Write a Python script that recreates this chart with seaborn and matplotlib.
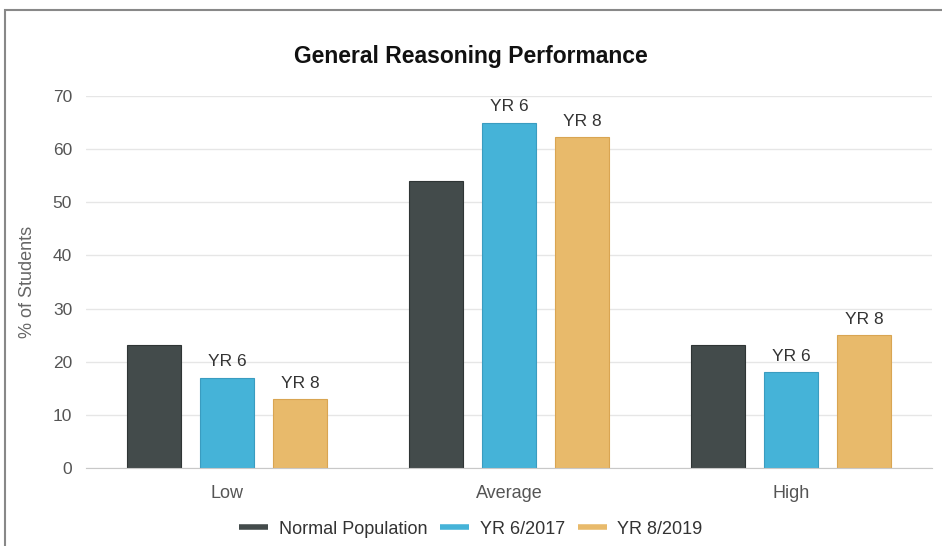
import matplotlib.pyplot as plt
import matplotlib.patches as patches
import matplotlib.ticker as ticker
import pandas as pd
import seaborn as sns

# values
categories = ['Low', 'Average', 'High']
series_names = ['Normal Population', 'YR 6/2017', 'YR 8/2019']
normal_pop = [23.2, 54, 23.2]
yr6_2017 = [17, 65, 18]
yr8_2019 = [13, 62.2, 25]
bar_labels = ['', 'YR 6', 'YR 8']
colors = ['#434b4b', '#45b3d8', '#e8ba6b']
edges = ['#2f3535', '#3a9cc0', '#d9a552']

df = pd.DataFrame({
    'category': categories * 3,
    'series': [s for s in series_names for _ in categories],
    'value': normal_pop + yr6_2017 + yr8_2019,
})

sns.set_style('white')
plt.rcParams['font.family'] = ['Liberation Sans', 'DejaVu Sans']

fig = plt.figure(figsize=(9.42, 5.46), dpi=100)
ax = fig.add_axes([0.0913, 0.1429, 0.8981, 0.6813])

sns.barplot(data=df, x='category', y='value', hue='series', order=categories,
            hue_order=series_names, palette=colors, width=0.78, gap=0.26,
            saturation=1, linewidth=0.8, ax=ax, legend=False)

for cont, ec, lab in zip(ax.containers, edges, bar_labels):
    for b in cont:
        b.set_edgecolor(ec)
    if lab:
        ax.bar_label(cont, labels=[lab] * len(cont), padding=6,
                     fontsize=12.5, color='#333333')

ax.set_ylim(0, 70)
ax.set_xlim(-0.5, 2.5)
ax.yaxis.set_major_locator(ticker.MultipleLocator(10))
ax.grid(axis='y', color='#e6e6e6', linewidth=1)
ax.set_axisbelow(True)
for s in ['top', 'right', 'left']:
    ax.spines[s].set_visible(False)
ax.spines['bottom'].set_color('#c8c8c8')
ax.tick_params(axis='y', length=0, labelsize=12.5, labelcolor='#555555', pad=10)
ax.tick_params(axis='x', which='major', length=0, labelsize=13,
               labelcolor='#555555', pad=12)
ax.xaxis.set_minor_locator(ticker.FixedLocator([-0.5, 0.5, 1.5, 2.5]))
ax.tick_params(axis='x', which='minor', length=7, color='#c8c8c8', direction='out')
ax.set_xlabel('')
ax.set_ylabel('% of Students', fontsize=13, color='#666666', labelpad=12)

fig.text(0.5, 0.896, 'General Reasoning Performance', ha='center', va='center',
         fontsize=16.5, fontweight='bold', color='#111111')

handles = [plt.Line2D([], [], color=c, linewidth=4, solid_capstyle='butt')
           for c in colors]
fig.legend(handles, series_names, loc='center', bbox_to_anchor=(0.5, 0.031),
           ncol=3, frameon=False, fontsize=13, handlelength=1.6,
           columnspacing=0.7, handletextpad=0.6, labelcolor='#333333')

# outer frame of the screenshot
fig.patches.append(patches.Rectangle((5 / 942, -0.05), 1.1, 1 - 10 / 546 + 0.05,
                                     transform=fig.transFigure, fill=False,
                                     edgecolor='#888888', linewidth=1.5))

fig.savefig('out.png', dpi=100)
